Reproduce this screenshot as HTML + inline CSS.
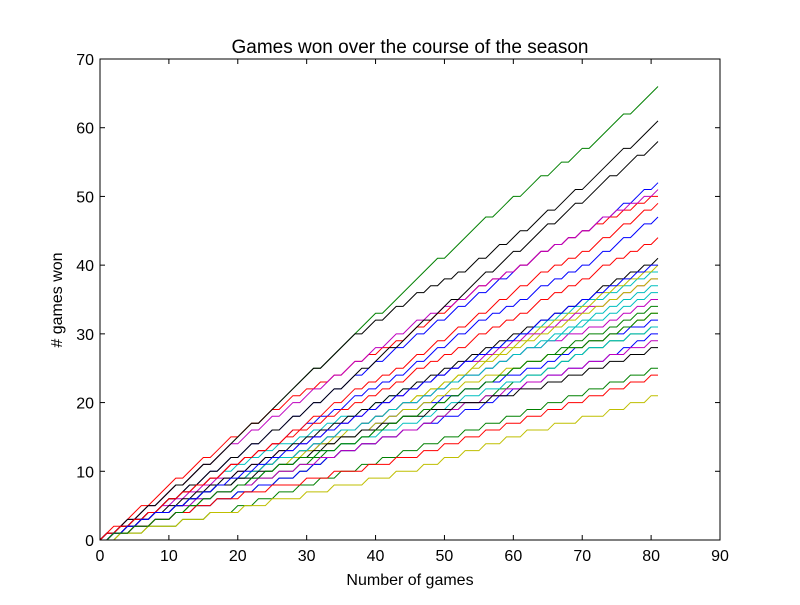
<!DOCTYPE html>
<html><head><meta charset="utf-8"><style>
body{margin:0;background:#fff;}
svg text{font-family:"Liberation Sans",sans-serif;}
</style></head><body>
<svg id="chart" width="800" height="600" xmlns="http://www.w3.org/2000/svg">
<rect width="800" height="600" fill="#fff"/>
<text x="410" y="53" font-size="19" text-anchor="middle">Games won over the course of the season</text>
<text x="410" y="585" font-size="16" text-anchor="middle">Number of games</text>
<text x="62" y="300" font-size="16" text-anchor="middle" transform="rotate(-90 62 300)"># games won</text>
<g id="series"></g>
<g id="axes"></g>
</svg>
<script>
const xTicks=[0,10,20,30,40,50,60,70,80,90];
const yTicks=[0,10,20,30,40,50,60,70];
const colors=["#0000ff","#008000","#ff0000","#00bfbf","#bf00bf","#bfbf00","#000000"];
// game-by-game results per team (W = win, L = loss)
const results=[
"WLWLWLWLW WLWWLWWLW WLWWLWWLW WLWWLWWLW WLWWLWWLW WLWWLWWLW WLWWLWWLW WLWLWLWLW WLWWLWWLW",
"WLWWLWWLW WWLWWWLWW WWWWLWWWW WWWWLWWWW WWWWLWWWW WWWWLWWWW WWLWWWLWW WLWWLWWLW WWWWLWWWW",
"WWLWWWLWW WWLWWWLWW WLWWLWWLW WLWLWLWLW WLWLWLWLW WLWWLWWLW WLWLWLWLW WLWLWLWLW LWLWLWLWL",
"WLWLWLWLW WLWLWLWLW LWLWLWLWL LWLWLWLWL LWLWLWLWL LWLWLWLWL WLWLWLWLW LWLWLWLWL LWLWLWLWL",
"WLWWLWWLW WWLWWWLWW WLWWLWWLW WLWWLWWLW WLWWLWWLW WLWLWLWLW WLWLWLWLW WLWLWLWLW WLWLWLWLW",
"LWLLWLLWL LWLWLWLWL LWLWLWLWL WLWLWLWLW LWLWLWLWL WLWLWLWLW WLWLWLWLW WLWLWLWLW WLWLWLWLW",
"WLWWLWWLW WWLWWWLWW WWWWLWWWW WWWWLWWWW WLWWLWWLW WLWLWLWLW WLWWLWWLW WWLWWWLWW WWWWLWWWW",
"WLWLWLWLW WLWLWLWLW WLWLWLWLW WLWLWLWLW WLWLWLWLW WLWWLWWLW WLWLWLWLW WLWLWLWLW WLWWLWWLW",
"LWLLWLLWL LWLWLWLWL LWLLWLLWL LWLWLWLWL LWLWLWLWL LWLWLWLWL LWLWLWLWL LWLWLWLWL LWLWLWLWL",
"WLWLWLWLW WLWLWLWLW WLWLWLWLW WLWWLWWLW WLWLWLWLW WLWWLWWLW WLWWLWWLW WLWLWLWLW WLWWLWWLW",
"LWLWLWLWL LWLWLWLWL LWLWLWLWL LWLWLWLWL LWLWLWLWL LWLWLWLWL LWLWLWLWL WLWLWLWLW LWLWLWLWL",
"WLWLWLWLW LWLWLWLWL LWLWLWLWL LWLWLWLWL WLWLWLWLW LWLWLWLWL LWLWLWLWL LWLWLWLWL LWLWLWLWL",
"LWLWLWLWL LWLWLWLWL LWLWLWLWL LWLWLWLWL LWLWLWLWL WLWLWLWLW LWLWLWLWL WLWLWLWLW LWLWLWLWL",
"WLWLWLWLW WLWWLWWLW WLWWLWWLW WLWWLWWLW WWLWWWLWW WWLWWWLWW WWLWWWLWW WWLWWWLWW WWLWWWLWW",
"LWLWLWLWL LWLWLWLWL LWLWLWLWL LWLLWLLWL LWLWLWLWL LWLLWLLWL LWLLWLLWL LWLWLWLWL LWLLWLLWL",
"LWLLWLLWL LWLLWLLWL LWLLWLLWL LWLWLWLWL LWLLWLLWL LWLWLWLWL LWLWLWLWL LWLWLWLWL LWLLWLLWL",
"WLWLWLWLW WLWLWLWLW WLWLWLWLW LWLWLWLWL WLWLWLWLW WLWLWLWLW WLWLWLWLW WLWLWLWLW WLWLWLWLW",
"LWLWLWLWL LWLLWLLWL LWLWLWLWL LWLLWLLWL LWLLWLLWL LWLWLWLWL LWLLWLLWL LWLWLWLWL LWLLWLLWL",
"LWLWLWLWL LWLWLWLWL LWLWLWLWL LWLWLWLWL LWLWLWLWL LWLWLWLWL LWLWLWLWL LWLLWLLWL LWLWLWLWL",
"LWLWLWLWL LWLWLWLWL LWLWLWLWL LWLLWLLWL LWLWLWLWL LWLWLWLWL LWLLWLLWL LWLLWLLWL LWLWLWLWL",
"LWLWLWLWL WLWLWLWLW LWLWLWLWL WLWLWLWLW LWLWLWLWL WLWLWLWLW LWLWLWLWL WLWLWLWLW WLWLWLWLW",
"LWLLWLLWL LWLLWLLWL LWLLWLLWL LWLWLWLWL LWLLWLLWL LWLLWLLWL LWLWLWLWL LWLLWLLWL LWLWLWLWL",
"LLWLLLWLL LLWLLLWLL LWLLWLLWL LWLLWLLWL LWLLWLLWL LWLLWLLWL LWLLWLLWL LWLLWLLWL LWLLWLLWL",
"LWLLWLLWL LWLLWLLWL LLWLLLWLL LLWLLLWLL LLWLLLWLL LWLLWLLWL LWLLWLLWL LWLLWLLWL LWLLWLLWL",
"LWLWLWLWL LWLWLWLWL LWLWLWLWL LWLWLWLWL LWLWLWLWL LWLWLWLWL LWLWLWLWL LWLWLWLWL LWLWLWLWL",
"LWLWLWLWL LWLLWLLWL LWLLWLLWL LWLLWLLWL LWLLWLLWL LWLWLWLWL LWLLWLLWL LWLLWLLWL LWLLWLLWL",
"LLWLLLWLL LLWLLLWLL LLWLLLWLL LLWLLLWLL LLWLLLWLL LWLLWLLWL LWLLWLLWL LLWLLLWLL LWLLWLLWL",
"LWLWLWLWL LWLWLWLWL LWLLWLLWL LWLWLWLWL LWLLWLLWL LLWLLLWLL LLWLLLWLL LWLLWLLWL LWLLWLLWL",
"LWLWLWLWL LWLWLWLWL WLWLWLWLW LWLWLWLWL WLWLWLWLW LWLWLWLWL WLWLWLWLW WLWLWLWLW LWLWLWLWL",
"LWLLWLLWL LWLWLWLWL LWLWLWLWL LWLLWLLWL LWLWLWLWL LWLWLWLWL LWLWLWLWL LWLLWLLWL LWLWLWLWL"
];
const L=100,R=720,T=59,B=540,xMax=90,yMax=70;
const sx=v=>L+(R-L)*v/xMax, sy=v=>B-(B-T)*v/yMax;
const NS="http://www.w3.org/2000/svg";
const sg=document.getElementById('series');
results.forEach((r,i)=>{
  const s=r.replace(/\s/g,'');
  let w=0; const pts=[[sx(0),sy(0)]];
  for(let g=0;g<s.length;g++){ if(s[g]==='W') w++; pts.push([sx(g+1),sy(w)]); }
  const p=document.createElementNS(NS,'polyline');
  p.setAttribute('points',pts.map(q=>q[0].toFixed(2)+','+q[1].toFixed(2)).join(' '));
  p.setAttribute('fill','none');
  p.setAttribute('stroke',colors[i%7]);
  p.setAttribute('stroke-width','1');
  
  
  sg.appendChild(p);
});
const ag=document.getElementById('axes');
function add(tag,attrs,text){const e=document.createElementNS(NS,tag);for(const k in attrs)e.setAttribute(k,attrs[k]);if(text!==undefined)e.textContent=text;ag.appendChild(e);return e;}
const frame=add('rect',{x:L,y:T,width:R-L,height:B-T,fill:'none',stroke:'#000','stroke-width':1});


xTicks.forEach(v=>{
  const x=sx(v);
  add('line',{x1:x,y1:B,x2:x,y2:B-5,stroke:'#000'});
  add('line',{x1:x,y1:T,x2:x,y2:T+5,stroke:'#000'});
  const t=add('text',{x:x,y:B+21,'font-size':16,'text-anchor':'middle'},String(v));
  
  
});
yTicks.forEach(v=>{
  const y=sy(v);
  add('line',{x1:L,y1:y,x2:L+5,y2:y,stroke:'#000'});
  add('line',{x1:R,y1:y,x2:R-5,y2:y,stroke:'#000'});
  const t=add('text',{x:L-6,y:y+6,'font-size':16,'text-anchor':'end'},String(v));
  
  
});
</script>
</body></html>
